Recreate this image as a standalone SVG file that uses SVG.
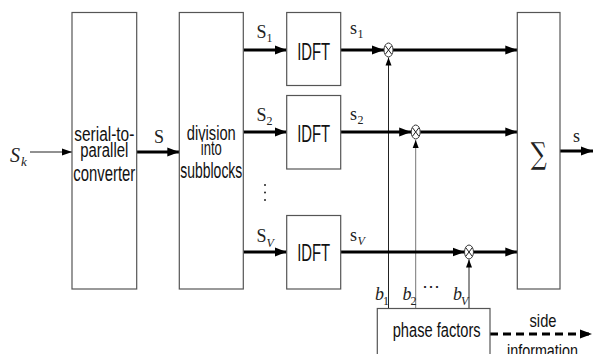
<svg xmlns="http://www.w3.org/2000/svg" width="594" height="354" viewBox="0 0 594 354">
<style>
.box{fill:#fff;stroke:#555;stroke-width:1.2}
.lbl{font-family:"Liberation Sans",Arial,sans-serif;fill:#111;text-anchor:middle}
.math{font-family:"Liberation Serif","Times New Roman",serif;fill:#222}
.it{font-style:italic}
.thick{stroke:#000;stroke-width:3;fill:none}
.thin{stroke:#222;stroke-width:1;fill:none}
.gray{stroke:#777;stroke-width:1;fill:none}
.mul{fill:#fff;stroke:#333;stroke-width:1}
</style>
<defs>
<marker id="ah" markerUnits="userSpaceOnUse" markerWidth="13" markerHeight="10" refX="12" refY="5" orient="auto">
<path d="M0,0.5 L12,5 L0,9.5 z" fill="#000"/>
</marker>
<marker id="ahs" markerUnits="userSpaceOnUse" markerWidth="11" markerHeight="8" refX="10" refY="4" orient="auto">
<path d="M0,0.5 L10,4 L0,7.5 z" fill="#000"/>
</marker>
<marker id="ahb" markerUnits="userSpaceOnUse" markerWidth="9" markerHeight="8" refX="8" refY="4" orient="auto">
<path d="M0,1 L8,4 L0,7 z" fill="#000"/>
</marker>
</defs>

<g id="connectors">
<line class="thin" x1="30" y1="152" x2="72" y2="152" marker-end="url(#ahs)"/>
<line class="thick" x1="136.7" y1="152" x2="179.3" y2="152" marker-end="url(#ah)"/>
<line class="thick" x1="243.3" y1="50" x2="286.7" y2="50" marker-end="url(#ah)"/>
<line class="thick" x1="243.3" y1="132" x2="286.7" y2="132" marker-end="url(#ah)"/>
<line class="thick" x1="243.3" y1="252" x2="286.7" y2="252" marker-end="url(#ah)"/>
<line class="thin" x1="388.5" y1="308.5" x2="388.5" y2="57.5" marker-end="url(#ahb)"/>
<line class="gray" x1="415.7" y1="308.5" x2="415.7" y2="140" marker-end="url(#ahb)"/>
<line class="thin" x1="469" y1="308.5" x2="469" y2="259.5" marker-end="url(#ahb)"/>
<line class="thick" x1="340.7" y1="50" x2="384" y2="50" marker-end="url(#ah)"/>
<line class="thick" x1="340.7" y1="132" x2="411.2" y2="132" marker-end="url(#ah)"/>
<line class="thick" x1="340.7" y1="252" x2="464.5" y2="252" marker-end="url(#ah)"/>
<line class="thick" x1="393" y1="50" x2="517.3" y2="50" marker-end="url(#ah)"/>
<line class="thick" x1="420.2" y1="132" x2="517.3" y2="132" marker-end="url(#ah)"/>
<line class="thick" x1="473.5" y1="252" x2="517.3" y2="252" marker-end="url(#ah)"/>
<line class="thick" x1="560" y1="151" x2="593" y2="151" marker-end="url(#ah)"/>
<line class="thick" x1="490" y1="334" x2="592" y2="334" stroke-dasharray="8 5" marker-end="url(#ah)"/>
</g>

<g id="mul1"><ellipse class="mul" cx="388.5" cy="50" rx="4.5" ry="7"/><path class="thin" d="M385.5,46 L391.5,54 M391.5,46 L385.5,54"/></g>
<g id="mul2"><ellipse class="mul" cx="415.7" cy="132" rx="4.5" ry="7"/><path class="thin" d="M412.7,128 L418.7,136 M418.7,128 L412.7,136"/></g>
<g id="mul3"><ellipse class="mul" cx="469" cy="252" rx="4.5" ry="7"/><path class="thin" d="M466,248 L472,256 M472,248 L466,256"/></g>

<g id="s2p">
<rect class="box" x="72" y="12.5" width="64.7" height="276.5"/>
<text class="lbl" x="104.3" y="141" font-size="20" textLength="60" lengthAdjust="spacingAndGlyphs">serial-to-</text>
<text class="lbl" x="104.3" y="157" font-size="20" textLength="48" lengthAdjust="spacingAndGlyphs">parallel</text>
<text class="lbl" x="104.3" y="181" font-size="22" textLength="62" lengthAdjust="spacingAndGlyphs">converter</text>
</g>

<g id="division">
<rect class="box" x="179.3" y="12.5" width="64" height="276.5"/>
<text class="lbl" x="211.3" y="140" font-size="20" textLength="49" lengthAdjust="spacingAndGlyphs">division</text>
<text class="lbl" x="211.3" y="154.5" font-size="20" textLength="21" lengthAdjust="spacingAndGlyphs">into</text>
<text class="lbl" x="211.3" y="177.5" font-size="22" textLength="62" lengthAdjust="spacingAndGlyphs">subblocks</text>
</g>

<g id="idft1">
<rect class="box" x="286.7" y="12.5" width="54" height="73"/>
<text class="lbl" x="313.7" y="60" font-size="24" textLength="33" lengthAdjust="spacingAndGlyphs">IDFT</text>
</g>
<g id="idft2">
<rect class="box" x="286.7" y="95.5" width="54" height="73.5"/>
<text class="lbl" x="313.7" y="142" font-size="24" textLength="33" lengthAdjust="spacingAndGlyphs">IDFT</text>
</g>
<g id="idft3">
<rect class="box" x="286.7" y="215.5" width="54" height="73.5"/>
<text class="lbl" x="313.7" y="261" font-size="24" textLength="33" lengthAdjust="spacingAndGlyphs">IDFT</text>
</g>

<g id="sum">
<rect class="box" x="517.3" y="12.5" width="42.7" height="276.5"/>
<text x="538.7" y="164" font-family="DejaVu Serif,serif" font-size="30" text-anchor="middle" fill="#222" textLength="16" lengthAdjust="spacingAndGlyphs">∑</text>
</g>

<g id="phase">
<rect class="box" x="377.3" y="308.5" width="112.7" height="60"/>
<text class="lbl" x="436.7" y="337" font-size="20" textLength="88" lengthAdjust="spacingAndGlyphs">phase factors</text>
</g>

<g id="labels">
<text class="math it" x="10" y="162" font-size="20">S</text>
<text class="math it" x="21" y="166" font-size="13">k</text>
<text class="math" x="154" y="143" font-size="18">S</text>
<text class="math" x="256.5" y="38" font-size="18">S</text>
<text class="math" x="266.5" y="42" font-size="12">1</text>
<text class="math" x="256.5" y="121" font-size="18">S</text>
<text class="math" x="266.5" y="125" font-size="12">2</text>
<circle cx="265" cy="185" r="1" fill="#222"/>
<circle cx="265" cy="192.5" r="1" fill="#222"/>
<circle cx="265" cy="200" r="1" fill="#222"/>
<text class="math" x="256.5" y="242" font-size="18">S</text>
<text class="math it" x="266.5" y="246.5" font-size="12">V</text>
<text class="math" x="350" y="34" font-size="18">s</text>
<text class="math" x="357.5" y="38" font-size="12">1</text>
<text class="math" x="350" y="120" font-size="18">s</text>
<text class="math" x="357.5" y="124" font-size="12">2</text>
<text class="math" x="350" y="241" font-size="18">s</text>
<text class="math it" x="357.5" y="245" font-size="12">V</text>
<text class="math" x="573" y="142" font-size="18">s</text>
<text class="math it" x="375" y="300" font-size="18">b</text>
<text class="math" x="383" y="305" font-size="12">1</text>
<text class="math it" x="402.5" y="300" font-size="18">b</text>
<text class="math" x="410.5" y="305" font-size="12">2</text>
<text class="math" x="422" y="292" font-size="18">⋯</text>
<text class="math it" x="453" y="300" font-size="18">b</text>
<text class="math it" x="461" y="305" font-size="12">V</text>
<text class="lbl" x="543" y="327" font-size="19" textLength="27" lengthAdjust="spacingAndGlyphs">side</text>
<text class="lbl" x="542.5" y="357" font-size="19" textLength="71" lengthAdjust="spacingAndGlyphs">information</text>
</g>
</svg>
